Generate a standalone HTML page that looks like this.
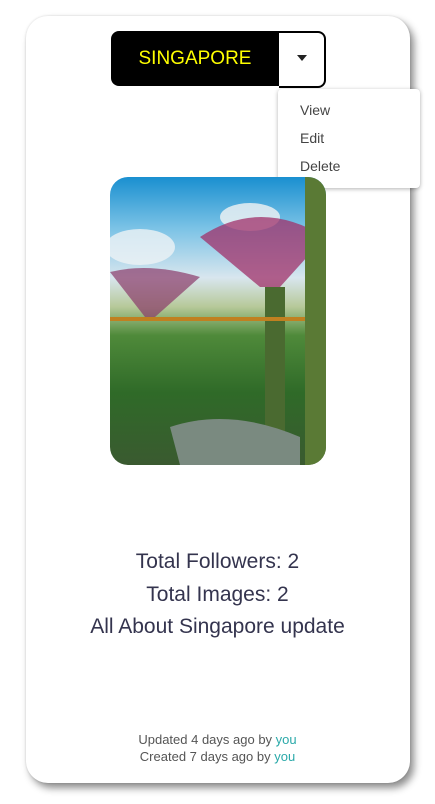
<!DOCTYPE html>
<html><head><meta charset="utf-8"><style>
body{margin:0;width:435px;height:804px;background:#fff;position:relative;overflow:hidden;font-family:"Liberation Sans",sans-serif}
.card{position:absolute;left:26px;top:16px;width:384px;height:767px;border-radius:22px;background:#fff;box-shadow:4px 5px 8px rgba(0,0,0,.45),0 0 2px rgba(0,0,0,.15)}
.btn{position:absolute;left:111px;top:31px;width:168px;height:55px;background:#000;border-radius:8px 0 0 8px;color:#ff0;font-size:19px;display:flex;align-items:center;justify-content:center}
.caret{position:absolute;left:279px;top:31px;width:45px;height:53px;border:2px solid #000;border-left:none;border-radius:0 8px 8px 0;background:#fff}
.caret:after{content:"";position:absolute;left:18px;top:22px;border-left:5px solid transparent;border-right:5px solid transparent;border-top:6px solid #222}
.menu{position:absolute;left:278px;top:89px;width:142px;height:99px;background:#fff;border-radius:4px;box-shadow:0 1px 4px rgba(0,0,0,.3);font-size:14px;color:#444}
.menu div{position:absolute;left:22px}
.img{position:absolute;left:110px;top:177px;width:216px;height:288px;border-radius:18px;overflow:hidden;background:linear-gradient(180deg,#1a8fd0 0%,#7cc3e6 18%,#d8e6ee 35%,#b7c99a 45%,#4f8a3a 55%,#2f6a28 75%,#3a5a30 100%)}
.t{position:absolute;left:0;width:435px;text-align:center;color:#34344e;font-size:21px;font-weight:300}
.f{position:absolute;left:0;width:435px;text-align:center;color:#555;font-size:13px}
.f span{color:#2aa9a9}
</style></head><body>
<div class="card"></div>
<div class="btn">SINGAPORE</div>
<div class="caret"></div>
<div class="menu">
<div style="top:13px">View</div>
<div style="top:41px">Edit</div>
<div style="top:69px">Delete</div>
</div>
<div class="img">
<svg width="216" height="288">
<ellipse cx="30" cy="70" rx="35" ry="18" fill="#eef3f5" opacity=".8"/>
<ellipse cx="140" cy="40" rx="30" ry="14" fill="#f2f4f4" opacity=".8"/>
<path d="M90 60 Q150 20 215 60 L170 110 L150 110 Z" fill="#a0306a" opacity=".75"/>
<rect x="155" y="110" width="20" height="178" fill="#4a6a30"/>
<path d="M0 95 Q40 85 90 100 L45 140 L35 140 Z" fill="#8a3a6a" opacity=".7"/>
<rect x="0" y="140" width="216" height="4" fill="#c08020"/>
<rect x="195" y="0" width="21" height="288" fill="#5a7a35"/>
<path d="M60 250 Q120 230 190 260 L190 288 L70 288Z" fill="#7a8a80"/>
</svg></div>
<div class="t" style="top:550px">Total Followers: 2</div>
<div class="t" style="top:583px">Total Images: 2</div>
<div class="t" style="top:615px">All About Singapore update</div>
<div class="f" style="top:732px">Updated 4 days ago by <span>you</span></div>
<div class="f" style="top:749px">Created 7 days ago by <span>you</span></div>
</body></html>
